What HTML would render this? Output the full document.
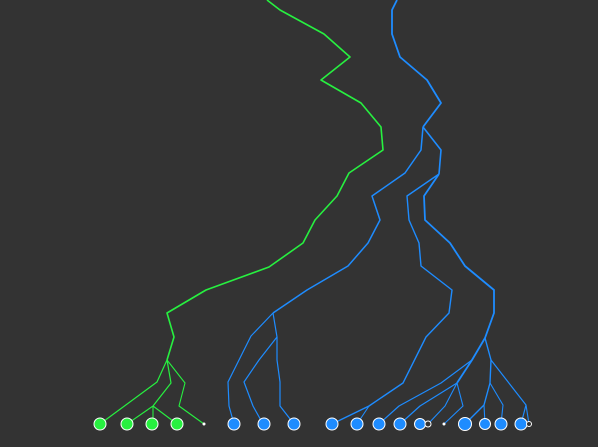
<!DOCTYPE html>
<html><head><meta charset="utf-8"><style>
html,body{margin:0;padding:0;background:#333;}
svg{display:block;}
</style></head><body>
<svg id="chart" width="598" height="447" viewBox="0 0 598 447">
<rect width="598" height="447" fill="#333"/>
<g id="links"></g><g id="nodes"></g>
</svg>
<script>
const branchPoints = [
 [267,0,280,10,324,34,350,57,321,80,361,103,381,127,383,150,349,173,337,196,315,220,303,243,269,267,206,290,167,313,174,337,167,360],
 [167,360,157,382,100,424],
 [167,360,171,383,153,406],
 [153,406,127,424],[153,406,153,424],[153,406,177,424],
 [167,360,185,383,179,406,204,424],
 [397,0,392,10,392,34,400,57,427,80,441,103,423,127],
 [423,127,421,150,405,173,372,196,380,220,368,243,348,266,307,290,273,313],
 [273,313,251,336,228,382,229,406,234,424],
 [273,313,277,337,259,360,244,382,253,406,263,424],
 [277,337,277,360,280,382,280,406,294,424],
 [423,127,441,150,439,174],
 [439,174,407,196,409,220,419,243,421,266,452,290,449,313,426,337,403,383,369,406,332,424],
 [369,406,357,424],
 [439,174,424,196,425,220,450,243,465,266,494,290,494,313,485,338,472,360,457,383],
 [472,360,441,383,399,406,379,424],
 [457,383,420,406,400,424],
 [457,383,445,406,428,424],
 [457,383,463,406,444,424],
 [485,338,491,360,490,383,484,405,465,424],
 [484,405,485,424],
 [490,383,503,405,501,424],
 [491,360,526,405,521,424],
 [526,405,529,424]
];
const branchWidths=[1.6,1.2,1.2,1.1,1.1,1.1,1.1,1.8,1.5,1.2,1.2,1.2,1.6,1.4,1.1,1.8,1.2,1.2,1.1,1.1,1.4,1.1,1.1,1.2,1.1];
const leafX=[100,127,152,177,204,234,264,294,332,357,379,400,420,428,444,465,485,501,521,529];
const leafR=[6,6,6,6,1.5,6,6,6,6,6,6,6,5.5,3,1.5,6.5,5.5,6,6,2.5];
const leafGroup=["g","g","g","g","g","b","b","b","b","b","b","b","b","b","b","b","b","b","b","b"];
const colors={g:"#27f040",b:"#1e8cff"};
const NS="http://www.w3.org/2000/svg";
const L=document.getElementById("links"),N=document.getElementById("nodes");
const gOf=i=>i<7?"g":"b";
branchPoints.forEach((p,i)=>{
 const el=document.createElementNS(NS,"polyline");
 let s=[];for(let k=0;k<p.length;k+=2)s.push(p[k]+","+p[k+1]);
 el.setAttribute("points",s.join(" "));
 el.setAttribute("fill","none");
 el.setAttribute("stroke",colors[gOf(i)]);
 el.setAttribute("stroke-width",branchWidths[i]||1.2);
 el.setAttribute("stroke-linejoin","round");
 
 
 L.appendChild(el);
});
leafX.forEach((x,i)=>{
 const c=document.createElementNS(NS,"circle");
 c.setAttribute("cx",x);c.setAttribute("cy",424);c.setAttribute("r",leafR[i]);
 const small=leafR[i]<2;
 c.setAttribute("fill",small?"#fff":(leafR[i]<4?"#333":colors[leafGroup[i]]));
 if(!small){c.setAttribute("stroke","#fff");c.setAttribute("stroke-width",1);}
 
 
 N.appendChild(c);
});
</script>
</body></html>
